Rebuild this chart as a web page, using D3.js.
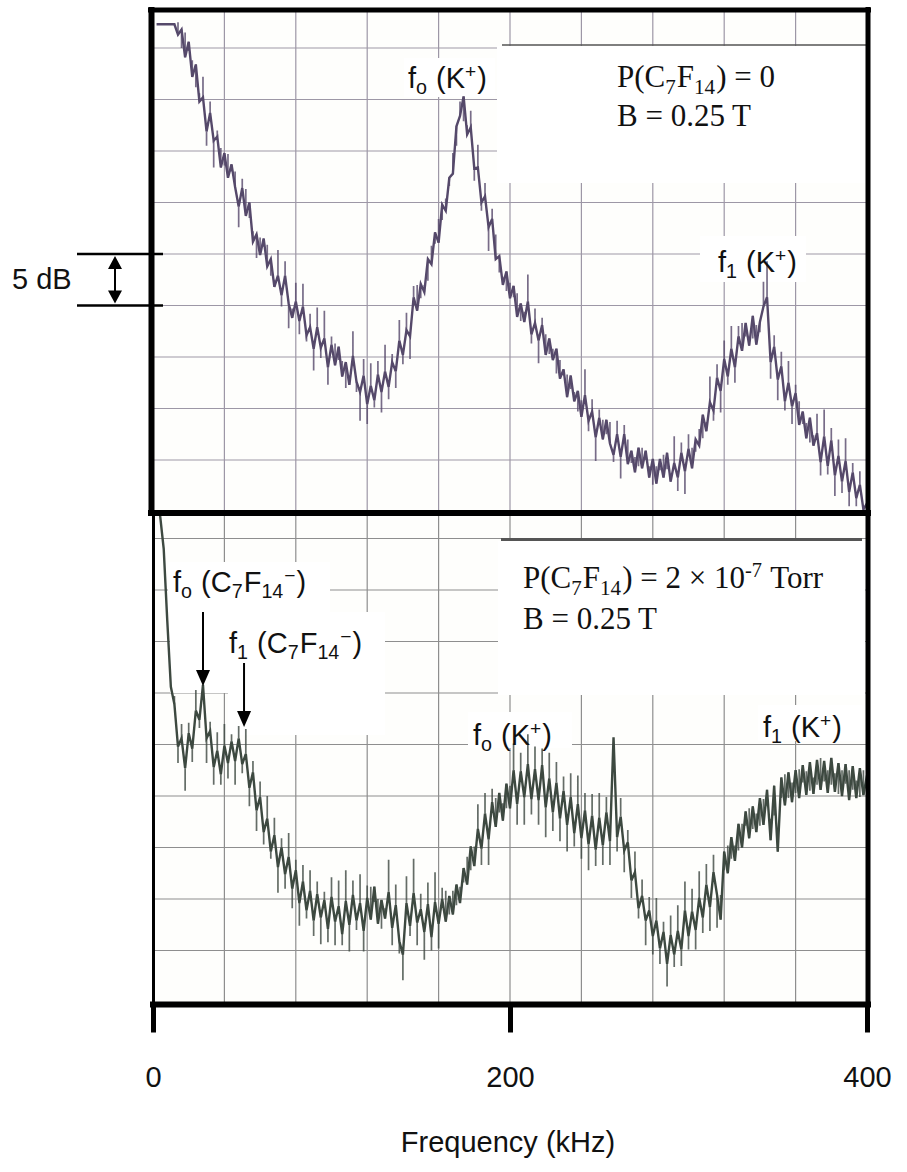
<!DOCTYPE html>
<html>
<head>
<meta charset="utf-8">
<script src="https://cdn.jsdelivr.net/npm/d3@7"></script>
<style>
  body { margin: 0; background: #fff; }
  text { white-space: pre; }
</style>
</head>
<body>
<div id="chart"></div>
<script>
// analyser sweep: one sample every 2 kHz starting at 2 kHz
// values are dB above the lowest grid line of each panel
var sweepStart = 2, sweepStep = 2;

// P(C7F14) = 0
var topTrace = [
  47.3, 47.3, 47.3, 47.3, 47.3, 47.3, 46.3, 46.8, 44.1, 45.6, 42.2, 43.4, 39.8, 40.2, 36.9, 38.7, 36.0, 36.4, 33.4, 34.8,
  32.4, 33.7, 31.5, 29.6, 31.4, 28.7, 30.0, 26.2, 26.9, 24.9, 26.5, 23.8, 24.5, 21.8, 22.9, 21.0, 22.9, 20.2, 18.8, 20.4,
  18.5, 19.9, 17.1, 17.9, 15.8, 17.9, 15.9, 16.8, 14.0, 16.2,
  14.2, 16.0, 13.1, 14.5, 12.3, 15.1, 12.6, 11.6, 13.2, 10.4, 12.2, 10.8, 13.3, 11.6, 13.6, 12.1, 14.5, 13.6, 16.6, 15.2,
  17.6, 17.0, 20.8, 19.5, 22.1, 21.3, 24.5, 24.0, 27.1, 26.1, 29.8, 29.2, 32.4, 32.8, 37.4, 38.4, 40.3, 36.6, 37.3, 33.3,
  33.4, 30.0, 30.6, 27.6, 28.4, 24.5, 24.8, 22.0, 23.3, 20.7,
  21.9, 18.9, 20.2, 18.4, 20.4, 17.2, 18.3, 16.6, 18.1, 15.2, 16.8, 14.7, 15.8, 12.9, 13.8, 11.1, 13.2, 10.7, 11.7, 9.2,
  11.3, 8.8, 9.7, 7.2, 9.1, 7.0, 8.9, 6.6, 5.5, 7.5, 5.3, 7.5, 4.6, 5.9, 3.8, 6.2, 4.2, 5.9, 3.3, 5.1,
  2.7, 5.1, 3.3, 5.7, 2.9, 4.7, 3.3, 5.7, 3.9, 6.1,
  4.2, 7.0, 6.4, 9.4, 7.8, 10.6, 9.8, 13.0, 11.7, 14.8, 13.1, 15.8, 14.0, 17.0, 15.6, 18.3, 16.1, 19.0, 16.2, 18.4,
  19.9, 20.8, 14.5, 16.0, 12.8, 14.1, 10.7, 12.5, 10.2, 11.5, 8.4, 9.7, 7.1, 9.1, 6.4, 7.6, 4.8, 7.3, 4.4, 6.9,
  3.5, 5.4, 2.9, 4.9, 1.9, 3.8, 1.3, 2.6, 0.2, 0.8
];
// noise spikes seen on each sample (dB, + up / - down)
var topSpikes = [
  0, 0, 0, 0, 0, 0, 1.2, -1.8, 2.4, -0.9, 1.6, -2.2, 0.8, 2.0, -1.4, 1.1, -2.6, 0.6, 1.9, -1.2,
  2.3, -0.7, 1.5, -2.0, 0.9, 2.6, -1.5, 1.0, -2.3, 1.7, -0.8, 2.1, -1.6, 0.7, 2.5, -1.1, 1.4, -2.4, 0.9, 1.8,
  -1.3, 2.2, -0.6, 1.3, -2.1, 1.9, -1.0, 2.7, -1.7, 0.8,
  2.1, -1.3, 1.5, -2.5, 0.9, 2.4, -1.0, -2.8, 1.6, -1.9, 2.2, -0.7, 1.3, -2.0, 2.6, -1.2, 0.8, -1.6, 2.0, -0.9,
  1.7, -2.2, 1.1, 2.5, -1.4, 0.7, -2.1, 1.8, -1.1, 2.3, -1.5, 1.2, -0.8, 2.0, -1.9, 1.4, -2.4, 0.9, 1.6, -1.2,
  2.2, -0.8, 1.3, -2.3, 1.0, 2.4, -1.6, 0.8, -1.9, 1.5,
  -1.1, 2.3, -1.7, 1.0, 2.6, -0.9, 1.4, -2.2, 0.7, 2.0, -1.5, 1.1, -2.4, 1.8, -0.6, 2.2, -1.3, 0.9, -2.0, 1.6,
  2.5, -1.0, 1.2, -2.3, 0.8, 1.9, -1.4, 2.1, -0.7, 1.3, -2.1, 0.9, 2.4, -1.2, 1.5, -1.8, 2.0, -0.9, 1.1, -2.5,
  1.7, -1.1, 2.2, -1.6, 0.8, 2.6, -1.3, 1.0, -2.2, 1.4,
  2.0, -1.2, 1.6, -2.3, 0.9, 2.5, -1.0, 1.3, -2.1, 1.8, -0.8, 2.2, -1.5, 1.0, 2.7, -1.3, 0.7, -2.2, 1.9, -1.0,
  2.4, 3.5, -1.6, 1.1, -2.0, 1.4, -0.9, 2.1, -1.7, 0.8, 2.3, -1.2, 1.5, -2.4, 1.0, 1.9, -1.3, 2.6, -0.8, 1.2,
  -2.0, 1.6, -1.1, 2.2, -1.4, 0.9, -0.8, 1.3, -0.5, 0.6
];

// P(C7F14) = 2e-7 Torr
var lowTrace = [
  50.0, 47.2, 44.0, 37.0, 30.6, 28.9, 24.8, 25.6, 22.7, 26.1, 24.6, 28.3, 27.4, 30.8, 25.6, 26.3, 22.8, 24.4, 22.1, 24.9,
  23.2, 25.3, 23.4, 25.6, 23.1, 24.1, 20.8, 22.3, 18.6, 19.9, 16.5, 17.8, 14.6, 16.2, 13.1, 15.0, 12.4, 14.1, 11.0, 12.8,
  9.6, 11.7, 8.9, 10.8, 7.9, 10.5, 8.2, 9.9, 7.1, 10.2,
  7.8, 9.3, 6.6, 9.8, 7.5, 10.4, 7.9, 9.6, 6.9, 10.1, 8.0, 11.2, 7.6, 9.9, 8.1, 10.7, 7.2, 9.4, 5.9, 4.6,
  9.6, 7.4, 10.6, 7.7, 9.0, 6.8, 9.5, 6.3, 9.7, 7.6, 10.0, 7.8, 10.3, 8.5, 11.4, 9.6, 13.0, 11.4, 15.1, 13.2,
  16.8, 14.9, 18.3, 15.8, 19.4, 17.0, 20.3, 17.6, 21.2, 18.8,
  22.5, 19.2, 22.4, 19.9, 23.1, 19.7, 22.6, 19.6, 23.0, 18.9, 21.7, 18.4, 21.3, 17.8, 20.5, 17.2, 19.9, 16.4, 19.2, 15.9,
  18.6, 15.3, 18.1, 14.8, 17.9, 15.2, 18.4, 15.6, 25.7, 16.0, 18.0, 14.7, 15.5, 11.8, 12.6, 9.1, 10.3, 7.9, 8.9, 6.4,
  7.9, 5.2, 6.8, 3.7, 6.5, 4.6, 6.9, 5.1, 8.9, 6.4,
  8.8, 7.0, 10.1, 8.2, 11.4, 9.2, 12.6, 10.4, 8.0, 14.6, 12.5, 16.0, 13.7, 17.3, 15.0, 18.5, 15.9, 19.0, 16.5, 19.8,
  17.2, 20.6, 15.7, 21.0, 14.6, 21.8, 19.1, 22.3, 19.4, 22.5, 19.8, 23.0, 20.1, 23.3, 20.2, 23.5, 20.6, 23.4, 20.3, 23.7,
  20.4, 23.2, 20.0, 23.1, 19.6, 22.9, 19.8, 22.7, 20.1, 22.0
];
var lowSpikes = [
  0, 0, 0, 0, 0, 0.8, -1.6, 1.4, -2.2, 1.0, -1.3, 2.0, -0.8, 1.6, -2.4, 0.9, -1.7, 1.8, -1.0, 2.1,
  -1.5, 0.7, -2.3, 1.2, -0.9, 2.4, -1.8, 1.1, -2.0, 1.5, -1.2, 2.2, -0.7, 1.7, -2.5, 0.9, -1.4, 2.3, -1.9, 1.0,
  -2.2, 1.6, -0.8, 2.0, -1.5, 1.2, -2.6, 0.8, -1.3, 1.9,
  -2.3, 2.5, -1.1, 3.0, -2.6, 1.4, -0.9, 2.8, -2.0, 1.2, 3.2, -1.5, 2.4, -2.8, 1.0, 3.1, -1.7, 2.0, -1.2, -2.5,
  2.6, -1.0, 3.3, -2.2, 1.5, -2.7, 2.1, -1.3, 2.9, -2.4, 1.1, 3.0, -1.8, 2.3, -2.0, 1.6, -1.4, 2.7, -2.3, 1.9,
  2.4, -1.6, 2.0, -2.5, 1.3, 2.8, -1.9, 1.7, -2.4, 2.2,
  2.6, -2.0, 1.8, -2.7, 2.9, -1.5, 2.2, -2.4, 1.6, -2.9, 2.5, -1.8, 2.0, -2.2, 1.4, -2.6, 2.3, -1.3, 2.8, -2.0,
  1.7, -2.5, 2.1, -1.6, 2.4, -1.9, 1.5, -2.3, 0, -1.4, 1.8, -2.1, 1.2, -1.7, 2.0, -1.0, 1.6, -2.4, 1.3, -1.8,
  2.2, -1.5, 1.0, -2.2, 1.9, -1.2, 2.5, -1.6, 2.8, -1.3,
  2.2, -1.9, 2.6, -1.5, 2.0, -2.3, 1.7, -3.2, 2.4, -1.8, 2.7, -2.1, 1.5, -2.6, 2.3, -1.4, 2.9, -2.2, 1.8, -2.7,
  2.5, -1.6, 2.1, -2.9, 1.4, -2.0, 3.0, -2.5, 1.9, -2.2, 2.8, -1.7, 2.3, -2.8, 1.6, -2.4, 3.1, -2.0, 2.2, -2.6,
  1.8, -3.0, 2.5, -1.9, 2.9, -2.3, 1.7, -2.8, 2.4, -1.6
];

var freqTicks = [0, 200, 400];
var gridFreqs = [40, 80, 120, 160, 200, 240, 280, 320, 360];
var gridDb = [5, 10, 15, 20, 25, 30, 35, 40, 45];

var width = 907, height = 1172;
var sans = "'Liberation Sans', Arial, sans-serif";
var serif = "'Liberation Serif', 'Times New Roman', serif";

var svg = d3.select("#chart").append("svg")
    .attr("width", width)
    .attr("height", height);

var x = d3.scaleLinear().domain([0, 400]).range([153, 867]);
var yTop = d3.scaleLinear().domain([0, 45]).range([511.5, 48]);
var yLow = d3.scaleLinear().domain([0, 45]).range([1002, 538.5]);

var defs = svg.append("defs");
// slight softening, the original is a scanned trace
defs.append("filter").attr("id", "soft")
    .append("feGaussianBlur").attr("stdDeviation", 0.45);

function toPoints(arr) {
    return arr.map((v, i) => [sweepStart + i * sweepStep, v]);
}

function richText(g, px, py, parts, family, size) {
    var t = g.append("text")
        .attr("x", px).attr("y", py)
        .attr("font-family", family)
        .attr("font-size", size)
        .attr("fill", "#111");
    var prevShifted = false;
    parts.forEach(p => {
        var s = t.append("tspan").text(p[0]);
        if (prevShifted) s.attr("dx", 1);
        if (p[1] == "sub") s.attr("y", py + size * 0.22).attr("font-size", size * 0.68);
        else if (p[1] == "sup") s.attr("y", py - size * 0.36).attr("font-size", size * 0.66);
        else s.attr("y", py);
        prevShifted = !!p[1];
    });
    return t;
}

function drawPanel(id, top, bottom, y, trace, spikes, gridColor, traceColor, boxes) {
    var g = svg.append("g").attr("class", id);
    defs.append("clipPath").attr("id", "clip-" + id)
        .append("rect")
        .attr("x", 154).attr("y", top)
        .attr("width", 713).attr("height", bottom - top);

    g.append("rect")
        .attr("x", 154).attr("y", top)
        .attr("width", 713).attr("height", bottom - top)
        .attr("fill", "#fefefc");

    var grid = g.append("g").attr("clip-path", "url(#clip-" + id + ")");
    grid.selectAll("line.v").data(gridFreqs).join("line")
        .attr("class", "v")
        .attr("x1", d => x(d)).attr("x2", d => x(d))
        .attr("y1", top).attr("y2", bottom)
        .attr("stroke", gridColor).attr("stroke-width", 1.2);
    grid.selectAll("line.h").data(gridDb).join("line")
        .attr("class", "h")
        .attr("x1", 154).attr("x2", 867)
        .attr("y1", d => y(d)).attr("y2", d => y(d))
        .attr("stroke", gridColor).attr("stroke-width", 1.2);

    // white patches behind the annotations
    g.selectAll("rect.box").data(boxes).join("rect")
        .attr("class", "box")
        .attr("x", d => d[0]).attr("y", d => d[1])
        .attr("width", d => d[2]).attr("height", d => d[3])
        .attr("fill", "#fff");

    var pts = toPoints(trace);
    var line = d3.line()
        .x(d => x(d[0]))
        .y(d => y(d[1]));

    var tg = g.append("g")
        .attr("clip-path", "url(#clip-" + id + ")")
        .append("g")
        .attr("filter", "url(#soft)");

    tg.append("path")
        .attr("d", pts.map((d, i) => `M${x(d[0])},${y(d[1])}V${y(d[1] + spikes[i])}`).join(""))
        .attr("fill", "none")
        .attr("stroke", traceColor)
        .attr("stroke-opacity", 0.8)
        .attr("stroke-width", 1.7);

    tg.append("path")
        .datum(pts)
        .attr("d", line)
        .attr("fill", "none")
        .attr("stroke", traceColor)
        .attr("stroke-width", 2.4)
        .attr("stroke-linejoin", "miter");
    return g;
}

var gTop = drawPanel("top", 12, 511, yTop, topTrace, topSpikes, "#9d97a6", "#55486a",
    [[497, 46, 370, 137], [404, 58, 91, 39], [700, 236, 106, 46]]);
var gLow = drawPanel("low", 516, 1002, yLow, lowTrace, lowSpikes, "#8e8e8e", "#3d4841",
    [[498, 541, 367, 154], [168, 562, 162, 50], [170, 612, 215, 81], [228, 693, 157, 42],
     [468, 712, 104, 36], [758, 705, 104, 36]]);

// rules over the white boxes
gTop.append("line").attr("x1", 502).attr("x2", 866).attr("y1", 45).attr("y2", 45)
    .attr("stroke", "#555").attr("stroke-width", 1.6);
gLow.append("line").attr("x1", 501).attr("x2", 862).attr("y1", 539.5).attr("y2", 539.5)
    .attr("stroke", "#555").attr("stroke-width", 3);

// frames
var frame = svg.append("g").attr("stroke", "#000").attr("stroke-linecap", "butt");
frame.append("line").attr("x1", 151.5).attr("x2", 151.5).attr("y1", 7).attr("y2", 516).attr("stroke-width", 6);
frame.append("line").attr("x1", 148).attr("x2", 871).attr("y1", 10).attr("y2", 10).attr("stroke-width", 5);
frame.append("line").attr("x1", 868).attr("x2", 868).attr("y1", 7).attr("y2", 1007).attr("stroke-width", 5);
frame.append("line").attr("x1", 148).attr("x2", 871).attr("y1", 513).attr("y2", 513).attr("stroke-width", 6);
frame.append("line").attr("x1", 153.5).attr("x2", 153.5).attr("y1", 513).attr("y2", 1007).attr("stroke-width", 3);

// frequency axis
var axis = svg.append("g")
    .attr("transform", "translate(0,1004.5)")
    .call(d3.axisBottom(x).tickValues(freqTicks).tickSize(28).tickPadding(34));
axis.select(".domain").attr("d", "M150,0H871").attr("stroke", "#000").attr("stroke-width", 6);
axis.selectAll(".tick line").attr("stroke", "#000").attr("stroke-width", 5);
axis.selectAll(".tick text")
    .attr("font-family", sans).attr("font-size", 29).attr("fill", "#111");

svg.append("text")
    .attr("x", 508).attr("y", 1152)
    .attr("text-anchor", "middle")
    .attr("font-family", sans).attr("font-size", 29).attr("fill", "#111")
    .text("Frequency (kHz)");

// 5 dB scale marker
var mark = svg.append("g").attr("stroke", "#000");
mark.append("line").attr("x1", 77).attr("x2", 163).attr("y1", yTop(25)).attr("y2", yTop(25)).attr("stroke-width", 2.5);
mark.append("line").attr("x1", 77).attr("x2", 163).attr("y1", yTop(20)).attr("y2", yTop(20)).attr("stroke-width", 2.5);
mark.append("line").attr("x1", 115).attr("x2", 115).attr("y1", yTop(25) + 10).attr("y2", yTop(20) - 10).attr("stroke-width", 2);
mark.append("path").attr("stroke", "none").attr("fill", "#000")
    .attr("d", `M115,${yTop(25) + 2}l-7,13h14z M115,${yTop(20) - 2}l-7,-13h14z`);
svg.append("text").attr("x", 12).attr("y", 289)
    .attr("font-family", sans).attr("font-size", 29).attr("fill", "#111")
    .text("5 dB");

// annotations, upper panel
richText(gTop, 408, 88, [["f"], ["o", "sub"], [" (K"], ["+", "sup"], [")"]], sans, 29);
richText(gTop, 718, 272, [["f"], ["1", "sub"], [" (K"], ["+", "sup"], [")"]], sans, 29);
richText(gTop, 617, 87, [["P(C"], ["7", "sub"], ["F"], ["14", "sub"], [") = 0"]], serif, 31);
richText(gTop, 617, 126, [["B = 0.25 T"]], serif, 31);

// annotations, lower panel
richText(gLow, 173, 592, [["f"], ["o", "sub"], [" (C"], ["7", "sub"], ["F"], ["14", "sub"], ["\u2212", "sup"], [")"]], sans, 29);
richText(gLow, 229, 653, [["f"], ["1", "sub"], [" (C"], ["7", "sub"], ["F"], ["14", "sub"], ["\u2212", "sup"], [")"]], sans, 29);
richText(gLow, 473, 745, [["f"], ["o", "sub"], [" (K"], ["+", "sup"], [")"]], sans, 29);
richText(gLow, 763, 737, [["f"], ["1", "sub"], [" (K"], ["+", "sup"], [")"]], sans, 29);
richText(gLow, 523, 588, [["P(C"], ["7", "sub"], ["F"], ["14", "sub"], [") = 2 \u00d7 10"], ["-7", "sup"], [" Torr"]], serif, 31);
richText(gLow, 523, 629, [["B = 0.25 T"]], serif, 31);

// arrows to the C7F14- peaks
var arrows = [[28, 612, 686], [51, 663, 727]];
arrows.forEach(a => {
    var ax = x(a[0]);
    gLow.append("line").attr("x1", ax).attr("x2", ax).attr("y1", a[1]).attr("y2", a[2] - 14)
        .attr("stroke", "#000").attr("stroke-width", 2);
    gLow.append("path").attr("fill", "#000")
        .attr("d", `M${ax},${a[2]}l-7,-16h14z`);
});
</script>
</body>
</html>
